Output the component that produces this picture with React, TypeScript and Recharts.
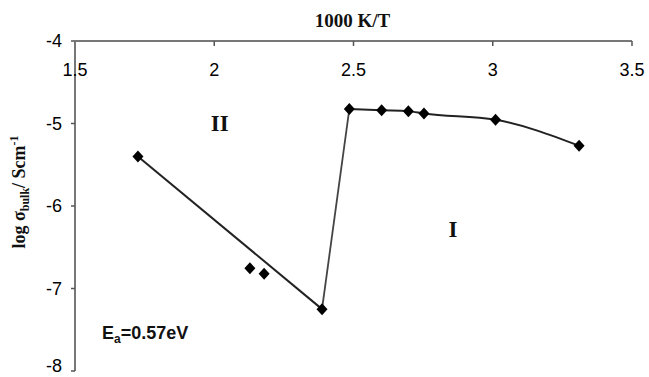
import React from 'react';
import { ComposedChart, Line, Scatter, XAxis, YAxis, ReferenceDot, Label } from 'recharts';

const pointX = [1.726, 2.128, 2.179, 2.387, 2.485, 2.601, 2.697, 2.753, 3.01, 3.31];
const pointY = [-5.4, -6.755, -6.82, -7.25, -4.825, -4.84, -4.85, -4.88, -4.955, -5.27];

const regionIIX = [1.726, 2.387];
const regionIIY = [-5.4, -7.25];

const jumpX = [2.387, 2.485];
const jumpY = [-7.25, -4.825];

const regionIX = [2.485, 2.601, 2.697, 2.753, 3.01, 3.31];
const regionIY = [-4.825, -4.84, -4.85, -4.88, -4.955, -5.27];

const xTicks = [1.5, 2, 2.5, 3, 3.5];
const yTicks = [-8, -7, -6, -5, -4];

const labelII = { x: 2.02, y: -4.99, text: 'II' };
const labelI = { x: 2.857, y: -6.28, text: 'I' };
const labelEa = { x: 1.597, y: -7.613 };

const zip = (xs: number[], ys: number[]) => xs.map((x, i) => ({ x, y: ys[i] }));

const points = zip(pointX, pointY);
const regionII = zip(regionIIX, regionIIY);
const jump = zip(jumpX, jumpY);
const regionI = zip(regionIX, regionIY);

const tickFont = '"Liberation Sans Narrow", "Liberation Sans", Arial, sans-serif';
const serif = '"Liberation Serif", "Times New Roman", serif';

const Diamond = (props: any) => {
  const { cx, cy } = props;
  const w = 5.5;
  const h = 6;
  return (
    <polygon
      points={`${cx},${cy - h} ${cx + w},${cy} ${cx},${cy + h} ${cx - w},${cy}`}
      fill="#000"
    />
  );
};

const XTick = (props: any) => {
  const { x, y, payload } = props;
  return (
    <text x={x} y={y + 30} textAnchor="middle" fontFamily={tickFont} fontSize={18} fill="#000">
      {payload.value}
    </text>
  );
};

const YTick = (props: any) => {
  const { x, y, payload } = props;
  return (
    <text x={x} y={Math.min(y + 6, 372)} textAnchor="end" fontFamily={tickFont} fontSize={18} fill="#000">
      {payload.value}
    </text>
  );
};

const XTitle = (props: any) => {
  const { viewBox } = props;
  return (
    <text
      x={viewBox.x + viewBox.width / 2 - 1}
      y={27}
      textAnchor="middle"
      fontFamily={serif}
      fontWeight="bold"
      fontSize={19}
      fill="#111"
    >
      1000 K/T
    </text>
  );
};

const YTitle = (props: any) => {
  const { viewBox } = props;
  const cx = 25;
  const cy = viewBox.y + 151;
  return (
    <text
      x={cx}
      y={cy}
      transform={`rotate(-90 ${cx} ${cy})`}
      textAnchor="middle"
      fontFamily={serif}
      fontWeight="bold"
      fontSize={18}
      fill="#111"
    >
      <tspan>log σ</tspan>
      <tspan fontSize={12} dy={4}>bulk</tspan>
      <tspan dy={-4}>/ Scm</tspan>
      <tspan fontSize={12} dy={-7}>-1</tspan>
    </text>
  );
};

const RegionText = (text: string) => (props: any) => {
  const { cx, cy } = props;
  return (
    <text x={cx} y={cy + 8} textAnchor="middle" fontFamily={serif} fontWeight="bold" fontSize={23} fill="#111">
      {text}
    </text>
  );
};

const EaText = (props: any) => {
  const { cx, cy } = props;
  return (
    <text x={cx} y={cy} textAnchor="start" fontFamily='"Liberation Sans", Arial, sans-serif' fontWeight="bold" fontSize={18} fill="#111">
      <tspan>E</tspan>
      <tspan fontSize={12} dy={4}>a</tspan>
      <tspan dy={-4}>=0.57eV</tspan>
    </text>
  );
};

export default function App() {
  return (
    <div style={{ position: 'absolute', left: 0, top: 0, width: 649, height: 377, background: '#fff' }}>
      <ComposedChart
        width={649}
        height={377}
        margin={{ top: 11, right: 17, bottom: 6, left: 0 }}
      >
        <XAxis
          type="number"
          dataKey="x"
          orientation="top"
          height={30}
          domain={[1.5, 3.5]}
          ticks={xTicks}
          interval={0}
          allowDataOverflow
          axisLine={{ stroke: '#777', strokeWidth: 2 }}
          tickLine={{ stroke: '#555', strokeWidth: 1.5 }}
          tickSize={-5}
          tickMargin={0}
          tick={<XTick />}
        >
          <Label content={<XTitle />} />
        </XAxis>
        <YAxis
          type="number"
          dataKey="y"
          width={75}
          domain={[-8, -4]}
          ticks={yTicks}
          interval={0}
          allowDataOverflow
          axisLine={{ stroke: '#777', strokeWidth: 2 }}
          tickLine={{ stroke: '#555', strokeWidth: 1.5 }}
          tickSize={4}
          tickMargin={9}
          tick={<YTick />}
        >
          <Label content={<YTitle />} />
        </YAxis>
        <Line data={regionII} dataKey="y" type="linear" stroke="#222" strokeWidth={2} dot={false} isAnimationActive={false} />
        <Line data={jump} dataKey="y" type="linear" stroke="#444" strokeWidth={1.8} dot={false} isAnimationActive={false} />
        <Line data={regionI} dataKey="y" type="monotone" stroke="#222" strokeWidth={2} dot={false} isAnimationActive={false} />
        <Scatter data={points} dataKey="y" shape={<Diamond />} isAnimationActive={false} />
        <ReferenceDot x={labelII.x} y={labelII.y} r={0} shape={RegionText(labelII.text)} />
        <ReferenceDot x={labelI.x} y={labelI.y} r={0} shape={RegionText(labelI.text)} />
        <ReferenceDot x={labelEa.x} y={labelEa.y} r={0} shape={EaText} />
      </ComposedChart>
    </div>
  );
}
